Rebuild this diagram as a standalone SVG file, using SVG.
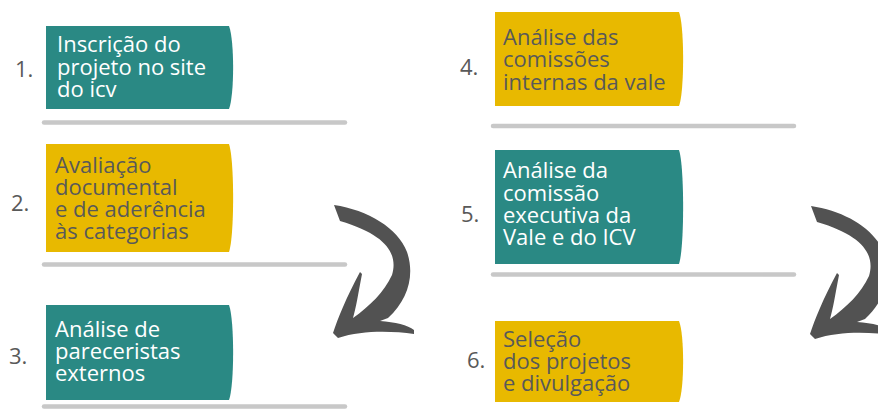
<svg xmlns="http://www.w3.org/2000/svg" width="878" height="419" viewBox="0 0 878 419">
<defs>
<style>
.teal{fill:#2a8984}
.yel{fill:#e8b900}
.tw{font-family:"Open Sans","Liberation Sans",sans-serif;font-size:22px;fill:#ffffff}
.td{font-family:"Open Sans","Liberation Sans",sans-serif;font-size:22px;fill:#595959}
.num{font-family:"Open Sans","Liberation Sans",sans-serif;font-size:22px;fill:#595959}
.sep{stroke:#c8c8c8;stroke-width:4.5;stroke-linecap:round;fill:none}
.arrow{fill:#525252}
</style>
<path id="arrowShape" d="M334,205 C368,210 398,228 407,252 C415,275 408,300 388,318 L380,321 C395,322 408,325 414,330 L414,334 C392,331 362,330 338,338 L333,333 C338,318 346,298 360,272 L362,274 C358,295 356,308 353,318 C370,306 384,292 392,275 C398,255 388,235 340,221 Z"/>
</defs>
<rect width="878" height="419" fill="#ffffff"/>

<g id="connectors">
<line class="sep" x1="44" y1="122.5" x2="345" y2="122.5"/>
<line class="sep" x1="44" y1="264.5" x2="345" y2="264.5"/>
<line class="sep" x1="44" y1="406.5" x2="345" y2="406.5"/>
<line class="sep" x1="493" y1="126" x2="794" y2="126"/>
<line class="sep" x1="493" y1="274.5" x2="794" y2="274.5"/>
<use href="#arrowShape" class="arrow"/>
<use href="#arrowShape" class="arrow" transform="translate(477,1)"/>
</g>

<g id="node1">
<path class="teal" d="M46,26 L229,26 C234.5,40 234.5,95 229,109 L46,109 Z"/>
<text class="num" x="15" y="77">1.</text>
<text class="tw" x="57"><tspan x="57" y="52">Inscrição do</tspan><tspan x="57" y="75">projeto no site</tspan><tspan x="57" y="97">do icv</tspan></text>
</g>

<g id="node2">
<path class="yel" d="M46,144 L229,144 C234.5,160 234.5,236 229,252 L46,252 Z"/>
<text class="num" x="11" y="211">2.</text>
<text class="td"><tspan x="55" y="173">Avaliação</tspan><tspan x="55" y="195">documental</tspan><tspan x="55" y="217">e de aderência</tspan><tspan x="55" y="239">às categorias</tspan></text>
</g>

<g id="node3">
<path class="teal" d="M46,305 L229,305 C234.5,320 234.5,385 229,400 L46,400 Z"/>
<text class="num" x="9" y="364">3.</text>
<text class="tw"><tspan x="55" y="337">Análise de</tspan><tspan x="55" y="359">pareceristas</tspan><tspan x="55" y="381">externos</tspan></text>
</g>

<g id="node4">
<path class="yel" d="M495,12 L679,12 C684.5,26 684.5,92 679,106 L495,106 Z"/>
<text class="num" x="460" y="75">4.</text>
<text class="td"><tspan x="503" y="45">Análise das</tspan><tspan x="503" y="67">comissões</tspan><tspan x="503" y="90">internas da vale</tspan></text>
</g>

<g id="node5">
<path class="teal" d="M495,150 L679,150 C684.5,166 684.5,248 679,264 L495,264 Z"/>
<text class="num" x="461" y="222">5.</text>
<text class="tw"><tspan x="503" y="178">Análise da</tspan><tspan x="503" y="201">comissão</tspan><tspan x="503" y="223">executiva da</tspan><tspan x="503" y="245">Vale e do ICV</tspan></text>
</g>

<g id="node6">
<path class="yel" d="M495,321 L679,321 C684.5,334 684.5,389 679,402 L495,402 Z"/>
<text class="num" x="467" y="368">6.</text>
<text class="td"><tspan x="503" y="347">Seleção</tspan><tspan x="503" y="369">dos projetos</tspan><tspan x="503" y="391">e divulgação</tspan></text>
</g>
</svg>
